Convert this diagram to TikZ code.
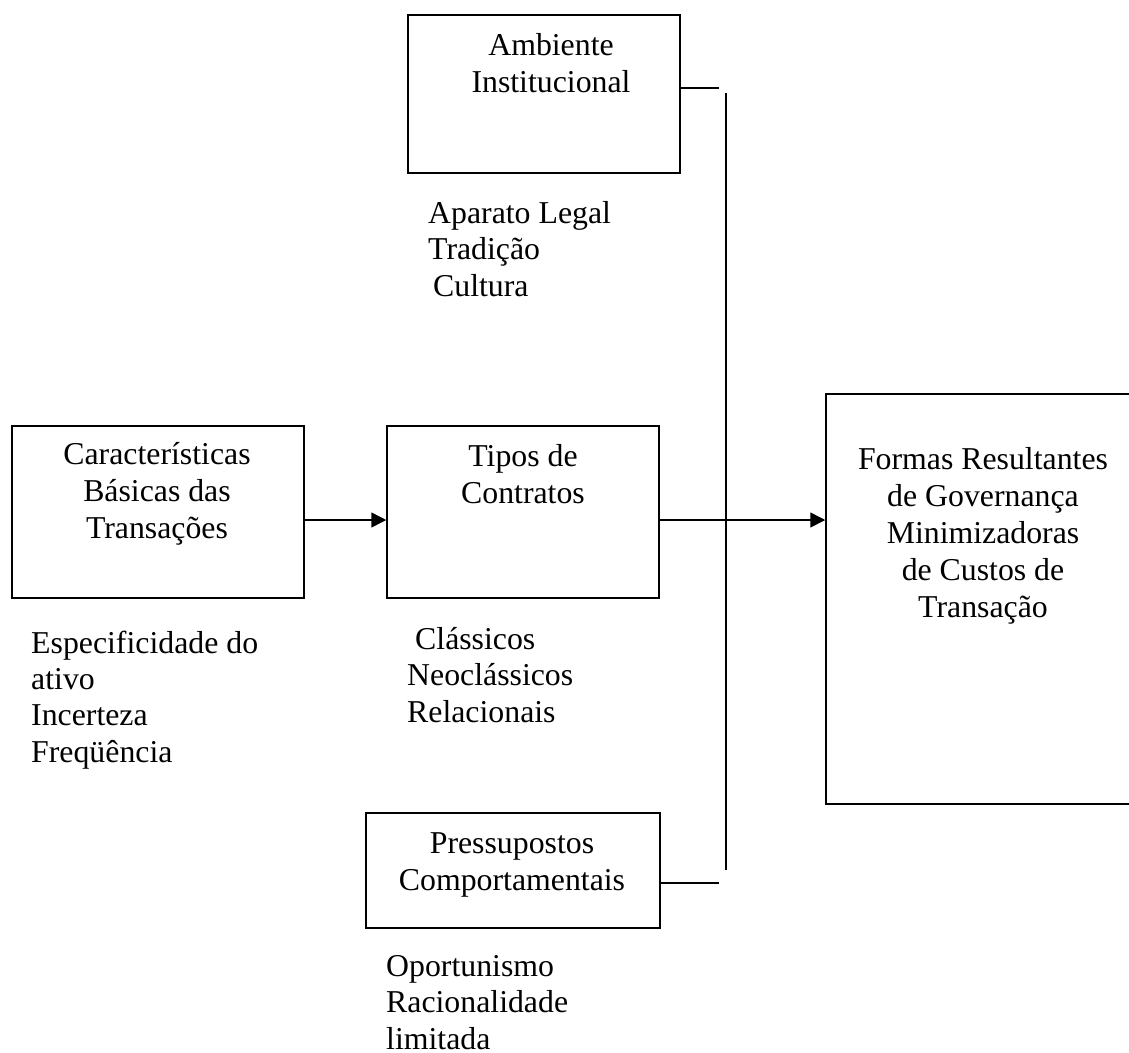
\documentclass[tikz,border=0pt]{standalone}
\usepackage{fontspec}
\setmainfont{Liberation Serif}
\usetikzlibrary{arrows.meta}
\begin{document}
\begin{tikzpicture}[x=1pt,y=-1pt,
  box/.style={draw=black,line width=1.5pt,inner sep=0pt,minimum width=#1},
  lbl/.style={inner sep=0pt,align=center,anchor=base,font=\fontsize{31.8}{36.8}\selectfont},
  lst/.style={inner sep=0pt,align=left,anchor=base west,font=\fontsize{31.8}{36.3}\selectfont},
  ln/.style={line width=1.5pt},
  arr/.style={line width=1.5pt,-{Triangle[length=15pt,width=15pt]}}]
\useasboundingbox (0,0) rectangle (1129,1052);
\clip (0,0) rectangle (1129,1052);
% boxes
\node[box=272pt,minimum height=158pt] (amb) at (544,94) {};
\node[box=292pt,minimum height=172pt] (carac) at (158,512) {};
\node[box=272pt,minimum height=172pt] (tipos) at (523,512) {};
\node[box=294pt,minimum height=115pt] (press) at (513,870.5) {};
\node[box=330pt,minimum height=410pt] (formas) at (991,599) {};
% box labels (anchored at the baseline of the last line)
\node[lbl] (tamb) at (551,92) {Ambiente\\Institucional};
\node[lbl] (tcarac) at (157,538) {Características\\Básicas das\\Transações};
\node[lbl] (ttipos) at (523,503) {Tipos de\\Contratos};
\node[lbl] (tpress) at (512,890) {Pressupostos\\Comportamentais};
\node[lbl] (tformas) at (983,617) {Formas Resultantes\\de Governança\\Minimizadoras\\de Custos de\\Transação};
% lists
\node[lst] (lamb) at (428,296) {Aparato Legal\\Tradição\\\hspace*{5pt}Cultura};
\node[lst] (lcarac) at (31,762) {Especificidade do\\ativo\\Incerteza\\Freqüência};
\node[lst] (ltipos) at (407,722) {\hspace*{8pt}Clássicos\\Neoclássicos\\Relacionais};
\node[lst,text depth=0pt] (lpress) at (386,1049) {Oportunismo\\Racionalidade\\limitada};
% connectors
\coordinate (ay) at (0,520);
\coordinate (vtop) at (726,93);
\coordinate (vbot) at (726,870);
\coordinate (aend) at (719,88);
\coordinate (pend) at (719,883);
\draw[ln] (vtop) -- (vbot);
\draw[ln] (amb.east |- aend) -- (aend);
\draw[ln] (press.east |- pend) -- (pend);
\draw[arr] (carac.east |- ay) -- (tipos.west |- ay);
\draw[arr] (tipos.east |- ay) -- (formas.west |- ay);
\end{tikzpicture}
\end{document}
